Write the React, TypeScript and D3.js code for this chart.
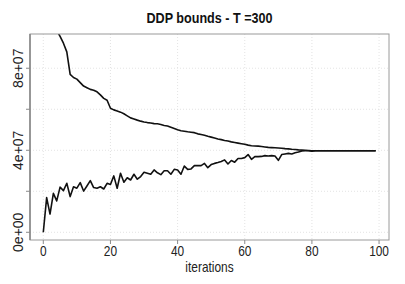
import React, { useEffect, useRef } from 'react';
import * as d3 from 'd3';

// iterations 0..99, values in units of 1e7
const iterations: number[] = d3.range(0, 100);

const upperBound: number[] = [
  12.0, 11.3, 10.7, 10.2, 9.85, 9.55, 9.22, 8.8, 7.7, 7.55,
  7.47, 7.3, 7.13, 7.05, 6.97, 6.93, 6.85, 6.7, 6.53, 6.44,
  6.05, 5.97, 5.92, 5.86, 5.78, 5.68, 5.58, 5.53, 5.47, 5.42,
  5.38, 5.35, 5.33, 5.3, 5.29, 5.26, 5.21, 5.18, 5.12, 5.06,
  5.0, 4.95, 4.93, 4.9, 4.88, 4.86, 4.8, 4.77, 4.73, 4.68,
  4.64, 4.6, 4.55, 4.52, 4.48, 4.45, 4.41, 4.38, 4.35, 4.32,
  4.29, 4.25, 4.22, 4.21, 4.2, 4.18, 4.16, 4.14, 4.13, 4.12,
  4.11, 4.1, 4.08, 4.07, 4.05, 4.04, 4.02, 4.01, 4.0, 3.99,
  3.98, 3.98, 3.98, 3.98, 3.98, 3.98, 3.98, 3.98, 3.98, 3.98,
  3.98, 3.98, 3.98, 3.98, 3.98, 3.98, 3.98, 3.98, 3.98, 3.98,
];

const lowerBound: number[] = [
  0.0, 1.69, 0.89, 1.9, 1.53, 2.2, 2.03, 2.39, 1.74, 2.22,
  2.15, 2.42, 2.01, 2.26, 2.52, 2.18, 2.15, 2.22, 2.11, 2.39,
  2.33, 2.75, 2.15, 2.88, 2.44, 2.66, 2.55, 2.83, 2.59, 2.72,
  2.93, 2.88, 2.83, 3.04, 2.9, 2.81, 3.0, 3.0, 2.83, 3.07,
  3.04, 2.83, 3.23, 3.07, 3.09, 3.25, 3.25, 3.25, 3.36, 3.15,
  3.3, 3.36, 3.4, 3.45, 3.53, 3.33, 3.5, 3.42, 3.6, 3.6,
  3.64, 3.79, 3.56, 3.69, 3.69, 3.7, 3.74, 3.72, 3.74, 3.72,
  3.51, 3.79, 3.82, 3.85, 3.82, 3.88, 3.92, 3.97, 3.98, 3.98,
  3.95, 3.98, 3.98, 3.98, 3.98, 3.98, 3.98, 3.98, 3.98, 3.98,
  3.98, 3.98, 3.98, 3.98, 3.98, 3.98, 3.98, 3.98, 3.98, 3.98,
];

const xTicks: number[] = [0, 20, 40, 60, 80, 100];
const yTicks: number[] = [0, 2e7, 4e7, 6e7, 8e7];
const yTickLabels: string[] = ['0e+00', '', '4e+07', '', '8e+07'];

const App: React.FC = () => {
  const svgRef = useRef<SVGSVGElement | null>(null);

  useEffect(() => {
    if (!svgRef.current) return;
    const svg = d3.select(svgRef.current);
    svg.selectAll('*').remove();

    const width = 405;
    const height = 284;
    const margin = { top: 34, right: 16, bottom: 44, left: 30 };
    const innerWidth = width - margin.left - margin.right;
    const innerHeight = height - margin.top - margin.bottom;

    const xScale = d3.scaleLinear().domain([-3.96, 102.96]).range([0, innerWidth]);
    const yScale = d3.scaleLinear().domain([-3.76e6, 9.67e7]).range([innerHeight, 0]);

    const font = '"Liberation Sans", Arial, sans-serif';

    svg.append('defs').append('clipPath').attr('id', 'plot-clip')
      .append('rect').attr('width', innerWidth).attr('height', innerHeight);

    const g = svg.append('g').attr('transform', `translate(${margin.left},${margin.top})`);

    // grid
    g.selectAll('line.vgrid').data(xTicks).enter().append('line')
      .attr('x1', d => xScale(d)).attr('x2', d => xScale(d))
      .attr('y1', 0).attr('y2', innerHeight)
      .attr('stroke', '#dcdcdc').attr('stroke-width', 0.8).attr('stroke-dasharray', '1,2');
    g.selectAll('line.hgrid').data(yTicks).enter().append('line')
      .attr('x1', 0).attr('x2', innerWidth)
      .attr('y1', d => yScale(d)).attr('y2', d => yScale(d))
      .attr('stroke', '#dcdcdc').attr('stroke-width', 0.8).attr('stroke-dasharray', '1,2');

    // lines
    const line = d3.line<number>()
      .x((d, i) => xScale(iterations[i]))
      .y(d => yScale(d * 1e7));

    const lines = g.append('g').attr('clip-path', 'url(#plot-clip)');
    [upperBound, lowerBound].forEach(series => {
      lines.append('path').datum(series)
        .attr('d', line)
        .attr('fill', 'none')
        .attr('stroke', '#111')
        .attr('stroke-width', 1.6)
        .attr('stroke-linejoin', 'round');
    });

    // box
    g.append('rect')
      .attr('width', innerWidth).attr('height', innerHeight)
      .attr('fill', 'none').attr('stroke', '#9a9a9a').attr('stroke-width', 1);
    g.append('line').attr('x1', 0).attr('x2', 0).attr('y1', 0).attr('y2', innerHeight)
      .attr('stroke', '#8a8a8a').attr('stroke-width', 1.6);

    // x axis ticks + labels
    g.selectAll('line.xtick').data(xTicks).enter().append('line')
      .attr('x1', d => xScale(d)).attr('x2', d => xScale(d))
      .attr('y1', innerHeight).attr('y2', innerHeight + 4)
      .attr('stroke', '#8a8a8a');
    g.selectAll('g.xlabel').data(xTicks).enter().append('g')
      .attr('transform', d => `translate(${xScale(d)},${innerHeight + 16}) scale(0.85,1)`)
      .append('text')
      .attr('text-anchor', 'middle')
      .attr('font-family', font).attr('font-size', 14).attr('fill', '#222')
      .text(d => d);

    // y axis ticks + labels
    g.selectAll('line.ytick').data(yTicks).enter().append('line')
      .attr('x1', -4).attr('x2', 0)
      .attr('y1', d => yScale(d)).attr('y2', d => yScale(d))
      .attr('stroke', '#8a8a8a');
    g.selectAll('text.ylabel').data(yTicks).enter().append('text')
      .attr('transform', d => `translate(-7,${yScale(d)}) rotate(-90)`)
      .attr('text-anchor', 'middle')
      .attr('font-family', font).attr('font-size', 14).attr('fill', '#222')
      .text((d, i) => yTickLabels[i]);

    // x axis title
    svg.append('g')
      .attr('transform', `translate(${margin.left + innerWidth / 2},${height - 12}) scale(0.85,1)`)
      .append('text')
      .attr('text-anchor', 'middle')
      .attr('font-family', font).attr('font-size', 14).attr('fill', '#222')
      .text('iterations');

    // title
    svg.append('g')
      .attr('transform', `translate(${margin.left + innerWidth / 2},23) scale(0.9,1)`)
      .append('text')
      .attr('text-anchor', 'middle')
      .attr('font-family', font).attr('font-size', 14).attr('font-weight', 'bold').attr('fill', '#111')
      .text('DDP bounds - T =300');
  }, []);

  return (
    <div style={{ position: 'absolute', left: 0, top: 0, background: '#fff' }}>
      <svg ref={svgRef} width={405} height={284} />
    </div>
  );
};

export default App;
